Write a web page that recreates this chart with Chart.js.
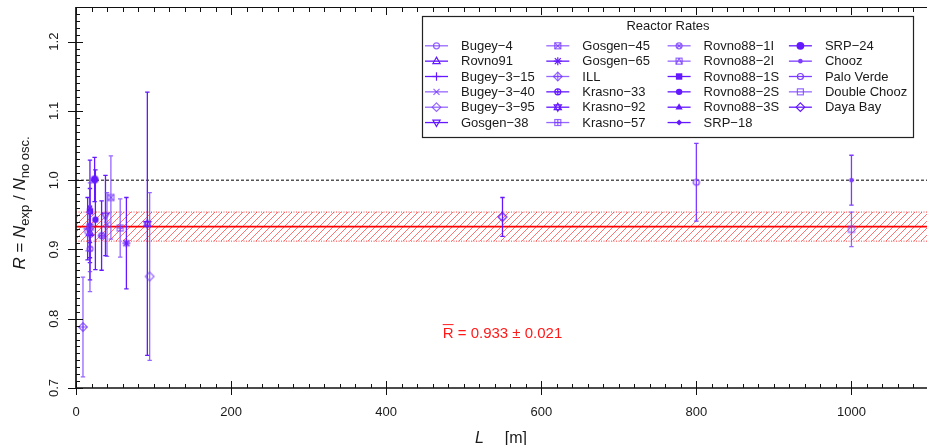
<!DOCTYPE html>
<html>
<head>
<meta charset="utf-8">
<title>Reactor Rates</title>
<script src="https://cdn.jsdelivr.net/npm/chart.js@4.4.1/dist/chart.umd.min.js"></script>
<style>
  html, body { margin: 0; padding: 0; background: #fff; overflow: hidden; }
  #wrap { width: 929px; height: 445px; }
</style>
</head>
<body>
<div id="wrap"><canvas id="ratioChart" width="929" height="445"></canvas></div>
<script>
// Measured / expected rate for each short-baseline reactor experiment
const experiments = ['Bugey\u22124', 'Rovno91', 'Bugey\u22123\u221215', 'Bugey\u22123\u221240', 'Bugey\u22123\u221295',
  'Gosgen\u221238', 'Gosgen\u221245', 'Gosgen\u221265', 'ILL', 'Krasno\u221233', 'Krasno\u221292', 'Krasno\u221257',
  'Rovno88\u22121I', 'Rovno88\u22122I', 'Rovno88\u22121S', 'Rovno88\u22122S', 'Rovno88\u22123S', 'SRP\u221218',
  'SRP\u221224', 'Chooz', 'Palo Verde', 'Double Chooz', 'Daya Bay'];
const baselines = [15, 18, 15, 40, 95, 38, 45, 65, 9, 33, 92, 57, 18, 18, 18, 25, 18, 18, 24, 1000, 800, 1000, 550];
const ratios = [0.926, 0.924, 0.930, 0.936, 0.861, 0.949, 0.975, 0.909, 0.788, 0.920, 0.937, 0.931,
  0.901, 0.932, 0.955, 0.943, 0.922, 0.936, 1.001, 1.000, 0.997, 0.929, 0.947];
const ratioErrors = [0.028, 0.036, 0.045, 0.046, 0.121, 0.058, 0.060, 0.066, 0.072, 0.050, 0.190, 0.042,
  0.062, 0.064, 0.074, 0.072, 0.066, 0.026, 0.032, 0.036, 0.056, 0.025, 0.028];

// Global average and its uncertainty
const meanRatio = 0.933;
const meanError = 0.021;

const xTicks = [0, 200, 400, 600, 800, 1000];
const yTicks = [0.7, 0.8, 0.9, 1.0, 1.1, 1.2];
const xMax = 1100;
const yMin = 0.7;
const yMax = 1.25;

// marker look per experiment (R pch-like symbols)
const LIGHT = 'rgba(120, 60, 255, 0.78)';
const MID = '#7d3cff';
const DARK = '#6418ff';
const symbols = ['circle', 'triangle', 'plus', 'cross', 'diamond', 'triangleDown', 'squareCross', 'asterisk',
  'diamondPlus', 'circlePlus', 'star', 'squarePlus', 'circleCross', 'squareTriangle', 'squareFilled',
  'circleFilled', 'triangleFilled', 'diamondFilled', 'circleBig', 'dot', 'circle', 'square', 'diamond'];
const shades = [LIGHT, DARK, DARK, LIGHT, LIGHT, DARK, LIGHT, DARK, LIGHT, DARK, DARK, LIGHT,
  LIGHT, LIGHT, DARK, DARK, DARK, DARK, DARK, MID, MID, LIGHT, DARK];

const FONT = '"Liberation Sans", Arial, Helvetica, sans-serif';

function drawSymbol(ctx, kind, x, y, color) {
  ctx.save();
  ctx.strokeStyle = color;
  ctx.fillStyle = color;
  ctx.lineWidth = 1.2;
  const poly = (pts, fill) => {
    ctx.beginPath();
    pts.forEach(([px, py], k) => (k ? ctx.lineTo(x + px, y + py) : ctx.moveTo(x + px, y + py)));
    ctx.closePath();
    fill ? ctx.fill() : ctx.stroke();
  };
  const seg = (x1, y1, x2, y2) => {
    ctx.beginPath();
    ctx.moveTo(x + x1, y + y1);
    ctx.lineTo(x + x2, y + y2);
    ctx.stroke();
  };
  const circ = (r, fill) => {
    ctx.beginPath();
    ctx.arc(x, y, r, 0, Math.PI * 2);
    fill ? ctx.fill() : ctx.stroke();
  };
  const sq = (h, fill) => (fill ? ctx.fillRect(x - h, y - h, 2 * h, 2 * h) : ctx.strokeRect(x - h, y - h, 2 * h, 2 * h));
  const up = [[0, -4], [3.6, 2.4], [-3.6, 2.4]];
  const down = [[0, 4], [3.6, -2.4], [-3.6, -2.4]];
  const dia = [[0, -4.3], [4.3, 0], [0, 4.3], [-4.3, 0]];
  switch (kind) {
    case 'circle': circ(3); break;
    case 'triangle': poly(up); break;
    case 'plus': seg(-4.2, 0, 4.2, 0); seg(0, -4.2, 0, 4.2); break;
    case 'cross': seg(-3, -3, 3, 3); seg(-3, 3, 3, -3); break;
    case 'diamond': poly(dia); break;
    case 'triangleDown': poly(down); break;
    case 'squareCross': sq(3); seg(-3, -3, 3, 3); seg(-3, 3, 3, -3); break;
    case 'asterisk': seg(-4, 0, 4, 0); seg(0, -4, 0, 4); seg(-3, -3, 3, 3); seg(-3, 3, 3, -3); break;
    case 'diamondPlus': poly(dia); seg(-4.3, 0, 4.3, 0); seg(0, -4.3, 0, 4.3); break;
    case 'circlePlus': circ(3); seg(-3, 0, 3, 0); seg(0, -3, 0, 3); break;
    case 'star': poly(up); poly(down); break;
    case 'squarePlus': sq(3); seg(-3, 0, 3, 0); seg(0, -3, 0, 3); break;
    case 'circleCross': circ(3); seg(-2.2, -2.2, 2.2, 2.2); seg(-2.2, 2.2, 2.2, -2.2); break;
    case 'squareTriangle': sq(3); seg(-3, 3, 0, -3); seg(0, -3, 3, 3); break;
    case 'squareFilled': sq(3.2, true); break;
    case 'circleFilled': circ(3.2, true); break;
    case 'triangleFilled': poly(up, true); break;
    case 'diamondFilled': poly([[0, -3], [3, 0], [0, 3], [-3, 0]], true); break;
    case 'circleBig': circ(3.9, true); break;
    case 'dot': circ(2.3, true); break;
    case 'square': sq(3); break;
  }
  ctx.restore();
}

function symbolImage(kind, color) {
  const c = document.createElement('canvas');
  c.width = 16;
  c.height = 16;
  drawSymbol(c.getContext('2d'), kind, 8, 8, color);
  return c;
}

const canvas = document.getElementById('ratioChart');
const mainCtx = canvas.getContext('2d');

function hatchPattern() {
  const s = 7;
  const c = document.createElement('canvas');
  c.width = s;
  c.height = s;
  const g = c.getContext('2d');
  g.strokeStyle = 'rgba(255, 30, 30, 0.7)';
  g.lineWidth = 0.9;
  g.beginPath();
  g.moveTo(0, s); g.lineTo(s, 0);
  g.moveTo(-1, 1); g.lineTo(1, -1);
  g.moveTo(s - 1, s + 1); g.lineTo(s + 1, s - 1);
  g.stroke();
  return mainCtx.createPattern(c, 'repeat');
}

const pointSets = experiments.map((name, i) => ({
  type: 'scatter',
  label: name,
  data: [{ x: baselines[i], y: ratios[i], err: ratioErrors[i] }],
  pointStyle: symbolImage(symbols[i], shades[i]),
  symbol: symbols[i],
  borderColor: shades[i],
  backgroundColor: shades[i],
  pointRadius: 5,
  order: 1,
}));

const flat = (v) => [{ x: 0, y: v }, { x: xMax, y: v }];

const refSets = [
  {
    type: 'line', label: 'band upper', data: flat(meanRatio + meanError),
    borderColor: 'rgba(255, 0, 0, 0.75)', borderWidth: 1, borderDash: [1, 1.5],
    pointRadius: 0, fill: '+1', backgroundColor: hatchPattern(), order: 5,
  },
  {
    type: 'line', label: 'band lower', data: flat(meanRatio - meanError),
    borderColor: 'rgba(255, 0, 0, 0.75)', borderWidth: 1, borderDash: [1, 1.5],
    pointRadius: 0, fill: false, order: 5,
  },
  {
    type: 'line', label: 'mean', data: flat(meanRatio),
    borderColor: '#ff0000', borderWidth: 1.6, pointRadius: 0, fill: false, order: 4,
  },
  {
    type: 'line', label: 'no oscillation', data: flat(1.0),
    borderColor: '#000', borderWidth: 1, borderDash: [3, 2], pointRadius: 0, fill: false, order: 4,
  },
];

// vertical error bars, drawn just before each marker
const errorBars = {
  id: 'errorBars',
  beforeDatasetDraw(chart, args) {
    const ds = chart.data.datasets[args.index];
    if (ds.type !== 'scatter') return;
    const { ctx, scales: { y } } = chart;
    const pt = ds.data[0];
    const px = args.meta.data[0].x;
    const top = y.getPixelForValue(pt.y + pt.err);
    const bot = y.getPixelForValue(pt.y - pt.err);
    ctx.save();
    ctx.strokeStyle = ds.borderColor;
    ctx.lineWidth = 1.3;
    ctx.beginPath();
    ctx.moveTo(px, top); ctx.lineTo(px, bot);
    ctx.moveTo(px - 2.2, top); ctx.lineTo(px + 2.2, top);
    ctx.moveTo(px - 2.2, bot); ctx.lineTo(px + 2.2, bot);
    ctx.stroke();
    ctx.restore();
  },
};

// axes, ticks, labels, legend and the average annotation
const frame = {
  id: 'frame',
  afterDraw(chart) {
    const { ctx, chartArea: a, scales: { x, y } } = chart;
    ctx.save();
    ctx.strokeStyle = '#111';
    ctx.lineWidth = 1;
    ctx.beginPath();
    for (let v = 0; v <= xMax; v += 20) {
      const px = Math.round(x.getPixelForValue(v)) + 0.5;
      ctx.moveTo(px, a.bottom - 4); ctx.lineTo(px, a.bottom);
      ctx.moveTo(px, a.top); ctx.lineTo(px, a.top + 5);
    }
    for (let k = 0; k <= Math.round((yMax - yMin) * 100); k++) {
      const py = Math.round(y.getPixelForValue(yMin + k / 100)) + 0.5;
      ctx.moveTo(a.left, py); ctx.lineTo(a.left + 4, py);
    }
    xTicks.forEach((v) => {
      const px = Math.round(x.getPixelForValue(v)) + 0.5;
      ctx.moveTo(px, a.bottom - 7); ctx.lineTo(px, a.bottom + 7);
      ctx.moveTo(px, a.top); ctx.lineTo(px, a.top + 8);
    });
    yTicks.forEach((v) => {
      const py = Math.round(y.getPixelForValue(v)) + 0.5;
      ctx.moveTo(a.left - 8, py); ctx.lineTo(a.left + 7, py);
    });
    ctx.stroke();

    ctx.lineWidth = 1.7;
    ctx.beginPath();
    ctx.moveTo(a.left, a.top); ctx.lineTo(a.left, a.bottom);
    ctx.lineTo(a.right, a.bottom);
    ctx.stroke();
    ctx.lineWidth = 1.2;
    ctx.beginPath();
    ctx.moveTo(a.left, a.top + 0.5); ctx.lineTo(a.right, a.top + 0.5);
    ctx.stroke();

    // tick labels
    ctx.fillStyle = '#1a1a1a';
    ctx.font = '13px ' + FONT;
    ctx.textAlign = 'center';
    ctx.textBaseline = 'middle';
    xTicks.forEach((v) => ctx.fillText(String(v), x.getPixelForValue(v), a.bottom + 24));
    yTicks.forEach((v) => {
      ctx.save();
      ctx.translate(a.left - 22, y.getPixelForValue(v));
      ctx.rotate(-Math.PI / 2);
      ctx.fillText(v.toFixed(1), 0, 0);
      ctx.restore();
    });

    // x title
    ctx.textAlign = 'left';
    ctx.textBaseline = 'alphabetic';
    const xc = 501;
    ctx.font = 'italic 16px ' + FONT;
    const wL = ctx.measureText('L').width;
    ctx.font = '16px ' + FONT;
    const wM = ctx.measureText('[m]').width;
    const gap = 21;
    const x0 = xc - (wL + gap + wM) / 2;
    ctx.font = 'italic 16px ' + FONT;
    ctx.fillText('L', x0, 443);
    ctx.font = '16px ' + FONT;
    ctx.fillText('[m]', x0 + wL + gap, 443);

    // y title
    const parts = [
      { t: 'R', f: 'italic 17px ', d: 0 },
      { t: ' = ', f: '17px ', d: 0 },
      { t: 'N', f: 'italic 17px ', d: 0 },
      { t: 'exp', f: '13px ', d: 4 },
      { t: ' / ', f: '17px ', d: 0 },
      { t: 'N', f: 'italic 17px ', d: 0 },
      { t: 'no osc.', f: '13px ', d: 4 },
    ];
    let total = 0;
    parts.forEach((p) => { ctx.font = p.f + FONT; p.w = ctx.measureText(p.t).width; total += p.w; });
    ctx.save();
    ctx.translate(25, 203);
    ctx.rotate(-Math.PI / 2);
    let cx = -total / 2;
    parts.forEach((p) => { ctx.font = p.f + FONT; ctx.fillText(p.t, cx, p.d); cx += p.w; });
    ctx.restore();

    // average annotation
    ctx.fillStyle = '#ff1a1a';
    ctx.strokeStyle = '#ff1a1a';
    ctx.font = '15px ' + FONT;
    const rest = ' = ' + meanRatio.toFixed(3) + ' \u00b1 ' + meanError.toFixed(3);
    const wR = ctx.measureText('R').width;
    const wRest = ctx.measureText(rest).width;
    const ax = x.getPixelForValue(550) - (wR + wRest) / 2;
    const ay = y.getPixelForValue(0.772);
    ctx.fillText('R', ax, ay);
    ctx.fillText(rest, ax + wR, ay);
    ctx.lineWidth = 1;
    ctx.beginPath();
    ctx.moveTo(ax, ay - 13.5); ctx.lineTo(ax + wR, ay - 13.5);
    ctx.stroke();

    // legend
    const box = { l: 422.5, t: 16.5, r: 913.5, b: 137.5 };
    ctx.fillStyle = '#fff';
    ctx.fillRect(box.l, box.t, box.r - box.l, box.b - box.t);
    ctx.strokeStyle = '#222';
    ctx.lineWidth = 1.2;
    ctx.strokeRect(box.l, box.t, box.r - box.l, box.b - box.t);
    ctx.fillStyle = '#1a1a1a';
    ctx.font = '13px ' + FONT;
    ctx.textAlign = 'center';
    ctx.textBaseline = 'middle';
    ctx.fillText('Reactor Rates', (box.l + box.r) / 2, 26);
    ctx.textAlign = 'left';
    const pts = chart.data.datasets.filter((d) => d.type === 'scatter');
    pts.forEach((d, i) => {
      const col = Math.floor(i / 6);
      const row = i % 6;
      const lx = 425 + col * 121.3;
      const ly = 45.8 + row * 15.35;
      ctx.strokeStyle = d.borderColor;
      ctx.lineWidth = 1.3;
      ctx.beginPath();
      ctx.moveTo(lx, ly); ctx.lineTo(lx + 23, ly);
      ctx.stroke();
      drawSymbol(ctx, d.symbol, lx + 11.5, ly, d.borderColor);
      ctx.fillStyle = '#1a1a1a';
      ctx.fillText(d.label, lx + 36, ly + 0.5);
    });
    ctx.restore();
  },
};

new Chart(canvas, {
  type: 'scatter',
  data: { datasets: [...pointSets, ...refSets] },
  options: {
    responsive: false,
    animation: false,
    events: [],
    layout: { autoPadding: false, padding: { left: 76, top: 7, right: 0, bottom: 57 } },
    scales: {
      x: { type: 'linear', min: 0, max: xMax, display: false },
      y: { type: 'linear', min: yMin, max: yMax, display: false },
    },
    plugins: {
      legend: { display: false },
      tooltip: { enabled: false },
    },
  },
  plugins: [errorBars, frame],
});
</script>
</body>
</html>
